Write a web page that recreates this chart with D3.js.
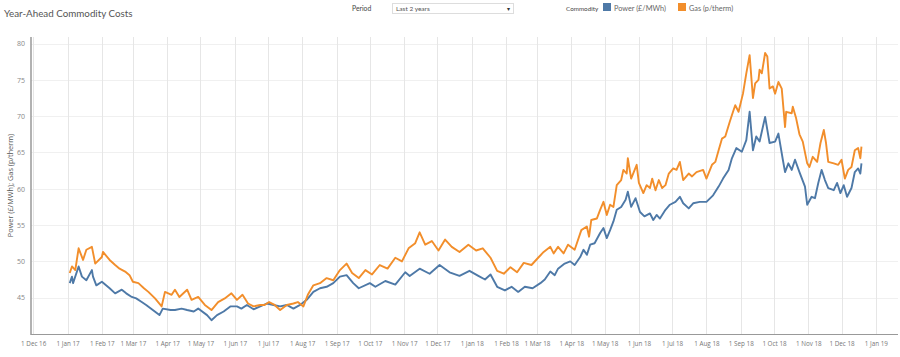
<!DOCTYPE html>
<html><head><meta charset="utf-8">
<script src="https://cdn.jsdelivr.net/npm/d3@7"></script>
<style>
html,body{margin:0;padding:0;background:#fff;}
svg{display:block;font-family:"Lato","Open Sans",sans-serif;}
</style></head>
<body><svg id="chart" width="900" height="357"></svg>
<script>
const title = "Year-Ahead Commodity Costs";
const yAxisTitle = "Power (£/MWh); Gas (p/therm)";
const seriesNames = ["Power (£/MWh)", "Gas (p/therm)"];
const seriesColors = ["#4e79a7", "#f28e2b"];
const yTicks = [45, 50, 55, 60, 65, 70, 75, 80];

const power = [
["2017-01-03",47.0],["2017-01-05",47.9],["2017-01-06",47.0],["2017-01-11",49.3],["2017-01-14",47.9],["2017-01-18",47.4],["2017-01-23",48.8],["2017-01-24",47.9],["2017-01-27",46.7],["2017-02-01",47.2],["2017-02-08",46.3],["2017-02-13",45.6],["2017-02-19",46.1],["2017-02-23",45.6],["2017-02-28",45.1],["2017-03-04",44.9],["2017-03-09",44.4],["2017-03-13",44.0],["2017-03-19",43.3],["2017-03-25",42.6],["2017-03-28",43.5],["2017-04-04",43.3],["2017-04-08",43.3],["2017-04-14",43.5],["2017-04-19",43.3],["2017-04-25",43.1],["2017-04-29",43.5],["2017-05-07",42.6],["2017-05-11",41.9],["2017-05-16",42.6],["2017-05-22",43.1],["2017-05-28",43.8],["2017-06-03",43.8],["2017-06-07",43.5],["2017-06-12",44.0],["2017-06-18",43.4],["2017-06-24",43.8],["2017-06-30",44.2],["2017-07-06",44.0],["2017-07-12",43.8],["2017-07-18",44.0],["2017-07-24",43.5],["2017-07-30",44.0],["2017-08-05",44.7],["2017-08-11",45.8],["2017-08-17",46.3],["2017-08-23",46.5],["2017-08-29",47.0],["2017-09-04",47.9],["2017-09-10",48.1],["2017-09-16",47.0],["2017-09-21",46.3],["2017-10-01",47.0],["2017-10-06",46.5],["2017-10-15",47.3],["2017-10-24",46.8],["2017-11-02",48.5],["2017-11-06",48.0],["2017-11-15",49.0],["2017-11-24",48.3],["2017-12-03",49.5],["2017-12-12",48.5],["2017-12-21",48.0],["2017-12-30",48.7],["2018-01-07",48.0],["2018-01-13",47.5],["2018-01-18",48.2],["2018-01-24",46.5],["2018-01-31",46.0],["2018-02-06",46.5],["2018-02-12",45.8],["2018-02-18",46.5],["2018-02-25",46.3],["2018-03-04",47.0],["2018-03-08",47.5],["2018-03-13",48.6],["2018-03-17",48.1],["2018-03-20",49.0],["2018-03-26",49.7],["2018-03-31",50.0],["2018-04-04",49.5],["2018-04-09",50.6],["2018-04-12",51.6],["2018-04-15",50.9],["2018-04-18",52.3],["2018-04-22",52.5],["2018-04-27",53.9],["2018-04-30",54.6],["2018-05-03",53.2],["2018-05-06",54.3],["2018-05-09",55.5],["2018-05-12",57.1],["2018-05-16",57.5],["2018-05-20",58.5],["2018-05-22",59.6],["2018-05-25",57.5],["2018-05-29",58.7],["2018-06-02",56.8],["2018-06-06",56.2],["2018-06-11",56.6],["2018-06-14",55.7],["2018-06-17",56.4],["2018-06-20",55.9],["2018-06-25",57.1],["2018-06-29",57.8],["2018-07-04",58.2],["2018-07-08",58.9],["2018-07-11",58.0],["2018-07-16",57.3],["2018-07-20",58.0],["2018-07-26",58.2],["2018-08-01",58.2],["2018-08-07",59.1],["2018-08-12",60.3],["2018-08-16",61.4],["2018-08-21",62.6],["2018-08-24",64.2],["2018-08-28",65.6],["2018-09-02",65.1],["2018-09-06",66.7],["2018-09-09",70.6],["2018-09-12",65.3],["2018-09-15",67.2],["2018-09-18",66.5],["2018-09-23",69.9],["2018-09-27",66.3],["2018-10-02",66.5],["2018-10-05",67.6],["2018-10-09",64.0],["2018-10-11",62.3],["2018-10-14",63.5],["2018-10-17",62.6],["2018-10-20",64.0],["2018-10-24",62.3],["2018-10-29",60.3],["2018-10-31",57.8],["2018-11-04",58.9],["2018-11-07",58.7],["2018-11-10",60.8],["2018-11-13",62.6],["2018-11-16",61.2],["2018-11-19",60.1],["2018-11-24",59.8],["2018-11-27",60.8],["2018-11-30",59.4],["2018-12-03",60.5],["2018-12-06",58.9],["2018-12-10",60.1],["2018-12-13",62.3],["2018-12-16",62.8],["2018-12-18",62.1],["2018-12-19",63.5]
];

const gas = [
["2017-01-03",48.4],["2017-01-05",49.3],["2017-01-08",48.8],["2017-01-11",51.8],["2017-01-15",50.2],["2017-01-18",51.6],["2017-01-23",52.0],["2017-01-26",49.7],["2017-02-01",50.6],["2017-02-02",51.3],["2017-02-08",50.2],["2017-02-13",49.5],["2017-02-17",49.0],["2017-02-22",48.6],["2017-02-26",48.1],["2017-03-01",47.2],["2017-03-06",47.0],["2017-03-11",46.3],["2017-03-15",45.8],["2017-03-21",44.9],["2017-03-27",43.8],["2017-03-30",45.8],["2017-04-05",45.4],["2017-04-08",46.1],["2017-04-12",45.1],["2017-04-19",46.1],["2017-04-23",44.7],["2017-04-29",45.1],["2017-05-05",44.0],["2017-05-11",43.3],["2017-05-17",44.4],["2017-05-23",44.9],["2017-05-29",45.6],["2017-06-03",44.7],["2017-06-08",45.4],["2017-06-13",44.2],["2017-06-18",43.8],["2017-06-24",44.0],["2017-06-28",44.0],["2017-07-02",44.4],["2017-07-07",44.0],["2017-07-12",43.3],["2017-07-18",44.0],["2017-07-24",44.2],["2017-07-28",44.4],["2017-08-02",43.8],["2017-08-06",45.4],["2017-08-11",46.7],["2017-08-17",47.0],["2017-08-23",47.7],["2017-08-29",47.4],["2017-09-04",48.8],["2017-09-10",49.7],["2017-09-15",48.4],["2017-09-21",47.7],["2017-09-27",48.8],["2017-10-03",48.2],["2017-10-10",49.5],["2017-10-17",49.0],["2017-10-24",50.5],["2017-10-30",50.0],["2017-11-05",51.8],["2017-11-11",52.5],["2017-11-15",54.0],["2017-11-20",52.3],["2017-11-26",52.8],["2017-12-02",51.5],["2017-12-08",53.0],["2017-12-14",52.0],["2017-12-21",51.3],["2017-12-29",52.3],["2018-01-05",51.5],["2018-01-11",51.8],["2018-01-18",50.5],["2018-01-24",48.7],["2018-01-30",48.3],["2018-02-05",49.2],["2018-02-11",48.5],["2018-02-17",49.8],["2018-02-24",49.5],["2018-03-02",50.5],["2018-03-07",51.3],["2018-03-13",52.0],["2018-03-16",51.1],["2018-03-20",52.0],["2018-03-25",51.1],["2018-03-29",52.3],["2018-04-04",51.6],["2018-04-10",54.3],["2018-04-15",54.8],["2018-04-17",53.4],["2018-04-19",55.7],["2018-04-24",55.9],["2018-04-27",57.1],["2018-04-30",58.2],["2018-05-03",56.4],["2018-05-06",57.8],["2018-05-09",57.5],["2018-05-12",60.5],["2018-05-16",61.2],["2018-05-18",62.6],["2018-05-21",62.1],["2018-05-22",64.2],["2018-05-25",61.4],["2018-05-30",63.3],["2018-06-01",60.8],["2018-06-05",59.4],["2018-06-08",60.5],["2018-06-11",60.1],["2018-06-13",61.4],["2018-06-16",59.8],["2018-06-19",61.2],["2018-06-22",60.1],["2018-06-25",60.5],["2018-06-28",62.1],["2018-07-02",62.8],["2018-07-05",62.6],["2018-07-08",63.7],["2018-07-11",61.2],["2018-07-16",62.1],["2018-07-19",61.7],["2018-07-23",62.3],["2018-07-29",62.6],["2018-08-01",61.4],["2018-08-06",63.3],["2018-08-09",63.7],["2018-08-12",65.3],["2018-08-15",66.9],["2018-08-18",67.2],["2018-08-22",69.2],["2018-08-25",70.6],["2018-08-27",71.5],["2018-08-30",70.6],["2018-09-03",73.1],["2018-09-06",75.9],["2018-09-09",78.4],["2018-09-12",72.5],["2018-09-14",74.5],["2018-09-17",75.0],["2018-09-18",76.4],["2018-09-20",75.9],["2018-09-23",78.7],["2018-09-25",78.2],["2018-09-27",73.8],["2018-09-30",74.1],["2018-10-02",73.1],["2018-10-05",74.7],["2018-10-08",73.8],["2018-10-11",68.5],["2018-10-12",70.6],["2018-10-17",70.4],["2018-10-18",71.3],["2018-10-21",69.7],["2018-10-24",67.5],["2018-10-27",66.5],["2018-10-31",63.5],["2018-11-02",63.0],["2018-11-05",64.4],["2018-11-09",63.7],["2018-11-12",66.3],["2018-11-15",68.1],["2018-11-17",66.3],["2018-11-19",63.7],["2018-11-24",63.5],["2018-11-28",63.3],["2018-12-01",64.0],["2018-12-04",61.4],["2018-12-07",62.6],["2018-12-10",63.0],["2018-12-13",65.3],["2018-12-16",65.6],["2018-12-18",64.2],["2018-12-19",65.8]
];

const parse = d3.timeParse("%Y-%m-%d");
const series = [power, gas].map((arr, i) => ({
  name: seriesNames[i], color: seriesColors[i],
  values: arr.map(d => ({date: parse(d[0]), value: d[1]}))
}));

const svg = d3.select("#chart");
const mL = 31, mR = 898, mT = 37, mB = 334;

const x = d3.scaleTime()
  .domain([parse("2016-11-29"), parse("2019-01-21")])
  .range([mL, mR]);
const y = d3.scaleLinear().domain([40, 80.9]).range([mB, mT]);

const monthTicks = d3.timeMonth.range(parse("2016-12-01"), parse("2019-01-02"));

// gridlines
svg.append("g").selectAll("line").data(yTicks).join("line")
  .attr("x1", mL).attr("x2", mR)
  .attr("y1", d => Math.round(y(d)) + 0.5).attr("y2", d => Math.round(y(d)) + 0.5)
  .attr("stroke", "#f0f0f0").attr("stroke-width", 1);
svg.append("g").selectAll("line").data(monthTicks).join("line")
  .attr("x1", d => Math.round(x(d)) + 0.5).attr("x2", d => Math.round(x(d)) + 0.5)
  .attr("y1", mT).attr("y2", mB)
  .attr("stroke", "#e6e6e6").attr("stroke-width", 1);

// axes
const xAxis = d3.axisBottom(x).tickValues(monthTicks).tickSize(0).tickPadding(6)
  .tickFormat(d3.timeFormat("1 %b %y"));
const gx = svg.append("g").attr("transform", `translate(0,${mB})`).call(xAxis);
gx.select(".domain").remove();
gx.selectAll("text").attr("fill", "#777").attr("font-size", 6.3).attr("dy", "0.9em")
  .style("font-family", "'Open Sans',sans-serif");

const yAxis = d3.axisLeft(y).tickValues(yTicks).tickSize(0).tickPadding(6);
const gy = svg.append("g").attr("transform", `translate(${mL},0)`).call(yAxis);
gy.select(".domain").remove();
gy.selectAll("text").attr("fill", "#888").attr("font-size", 7)
  .style("font-family", "'Open Sans',sans-serif");

svg.append("line").attr("x1", mL).attr("x2", mL).attr("y1", mT).attr("y2", mB + 1)
  .attr("stroke", "#999").attr("stroke-width", 1.5);
svg.append("line").attr("x1", mL).attr("x2", mR).attr("y1", mB + 0.5).attr("y2", mB + 0.5)
  .attr("stroke", "#999").attr("stroke-width", 1.2);

// lines
const line = d3.line().x(d => x(d.date)).y(d => y(d.value));
svg.append("g").selectAll("path").data(series).join("path")
  .attr("d", d => line(d.values))
  .attr("fill", "none").attr("stroke", d => d.color)
  .attr("stroke-width", 1.9).attr("stroke-linejoin", "round");

// y title
svg.append("text").attr("transform", `translate(13,${(mT+mB)/2}) rotate(-90)`)
  .attr("text-anchor", "middle").attr("font-size", 7.3).attr("fill", "#555")
  .style("font-family", "'Open Sans',sans-serif").text(yAxisTitle);

// header
svg.append("text").attr("x", 4).attr("y", 17).attr("font-size", 9.8).attr("fill", "#555").text(title);
svg.append("text").attr("x", 352).attr("y", 10.5).attr("font-size", 6.8).attr("fill", "#444").text("Period");
svg.append("rect").attr("x", 392.5).attr("y", 3.5).attr("width", 121).attr("height", 10)
  .attr("fill", "#fff").attr("stroke", "#ddd");
svg.append("text").attr("x", 396).attr("y", 11).attr("font-size", 6.5).attr("fill", "#555").text("Last 2 years");
svg.append("text").attr("x", 508).attr("y", 10.5).attr("font-size", 6).attr("fill", "#333")
  .attr("text-anchor", "middle").text("▾");
svg.append("text").attr("x", 566).attr("y", 10.5).attr("font-size", 6.3).attr("fill", "#444").text("Commodity");

const legendX = [603, 678];
const lg = svg.append("g").selectAll("g").data(series).join("g")
  .attr("transform", (d, i) => `translate(${legendX[i]},3)`);
lg.append("rect").attr("width", 8).attr("height", 8).attr("fill", d => d.color);
lg.append("text").attr("x", 11).attr("y", 7.5).attr("font-size", 7.3).attr("fill", "#666").text(d => d.name);
</script></body></html>
